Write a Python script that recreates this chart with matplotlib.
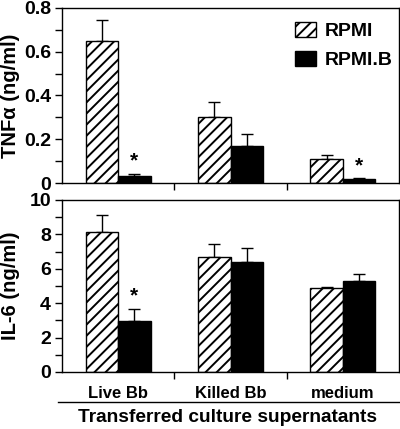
import matplotlib
matplotlib.use('Agg')
import matplotlib.pyplot as plt
import numpy as np
from matplotlib.lines import Line2D

plt.rcParams['font.family'] = ['Liberation Sans', 'DejaVu Sans']
plt.rcParams['font.weight'] = 'bold'
plt.rcParams['hatch.linewidth'] = 1.4

# data
categories = ['Live Bb', 'Killed Bb', 'medium']
series = ['RPMI', 'RPMI.B']
tnf_rpmi = [0.647, 0.30, 0.11]
tnf_rpmi_err = [0.098, 0.07, 0.02]
tnf_rpmib = [0.03, 0.17, 0.018]
tnf_rpmib_err = [0.012, 0.055, 0.004]
il6_rpmi = [8.14, 6.69, 4.88]
il6_rpmi_err = [0.96, 0.75, 0.05]
il6_rpmib = [2.97, 6.40, 5.29]
il6_rpmib_err = [0.68, 0.80, 0.42]
tnf_star = [True, False, True]
il6_star = [True, False, False]

fig = plt.figure(figsize=(4.0, 4.29), dpi=100)
ax1 = fig.add_axes([0.155, 0.5734, 0.8425, 0.408])
ax2 = fig.add_axes([0.155, 0.1329, 0.8425, 0.4009])

x = np.arange(len(categories))
w = 0.29


def draw(ax, a, aerr, b, berr, stars, ymax, major, star_off):
    ax.bar(x - w / 2, a, w, color='white', edgecolor='black', hatch='///',
           linewidth=1, label=series[0], zorder=2)
    ax.bar(x + w / 2, b, w, color='black', edgecolor='black', linewidth=1,
           label=series[1], zorder=2)
    ax.errorbar(x - w / 2, a, yerr=[np.zeros(3), aerr], fmt='none',
                ecolor='black', elinewidth=1, capsize=4, capthick=1, zorder=1)
    ax.errorbar(x + w / 2, b, yerr=[np.zeros(3), berr], fmt='none',
                ecolor='black', elinewidth=1, capsize=4, capthick=1, zorder=1)
    for i, s in enumerate(stars):
        if s:
            ax.text(x[i] + w / 2, b[i] + berr[i] + star_off, '*', ha='center',
                    va='bottom', fontsize=15, fontweight='bold')
    ax.set_xlim(-0.5, 2.5)
    ax.set_ylim(0, ymax)
    ax.set_yticks(np.arange(0, ymax + major / 2, major))
    ax.set_yticks(np.arange(major / 2, ymax, major), minor=True)
    ax.set_xticks([0.5, 1.5])
    ax.set_xticklabels([])
    ax.tick_params(axis='y', which='major', length=5, width=1, labelsize=14, pad=3)
    ax.tick_params(axis='y', which='minor', length=5, width=1)
    ax.tick_params(axis='x', length=5, width=1, direction='out')
    for sp in ax.spines.values():
        sp.set_linewidth(1)


draw(ax1, tnf_rpmi, tnf_rpmi_err, tnf_rpmib, tnf_rpmib_err, tnf_star, 0.8, 0.2, 0.015)
draw(ax2, il6_rpmi, il6_rpmi_err, il6_rpmib, il6_rpmib_err, il6_star, 10, 2, 0.25)

ax1.set_yticklabels(['0', '0.2', '0.4', '0.6', '0.8'])
ax1.set_ylabel('TNFα (ng/ml)', fontsize=14.5, fontweight='bold')
ax2.set_ylabel('IL-6 (ng/ml)', fontsize=14.5, fontweight='bold')
ax1.yaxis.set_label_coords(-0.125, 0.5)
ax2.yaxis.set_label_coords(-0.125, 0.5)

ax1.legend(loc='upper right', frameon=False, fontsize=14, handlelength=1.05,
           handleheight=0.8, handletextpad=0.45, borderaxespad=0.1,
           borderpad=0.25, labelspacing=0.55, bbox_to_anchor=(1.0, 0.96))

for i, c in enumerate(categories):
    ax2.text(x[i], -0.08, c, transform=ax2.get_xaxis_transform(), ha='center',
             va='top', fontsize=12, fontweight='bold')

ax2.add_line(Line2D([-0.012, 1.0], [-0.175, -0.175], transform=ax2.transAxes,
                    color='black', linewidth=1, clip_on=False))
fig.text(0.57, 0.026, 'Transferred culture supernatants', ha='center',
         va='center', fontsize=13.8, fontweight='bold')

fig.savefig('out.png', dpi=100)
